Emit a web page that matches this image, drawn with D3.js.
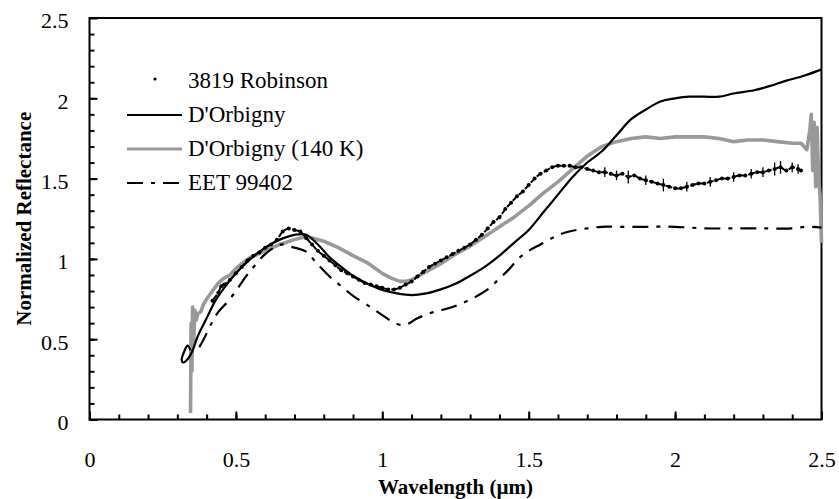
<!DOCTYPE html>
<html>
<head>
<meta charset="utf-8">
<script src="https://cdn.jsdelivr.net/npm/d3@7"></script>
</head>
<body style="margin:0">
<svg id="chart" width="839" height="499"></svg>
<script>
// wavelength (um), normalized reflectance
const robinson = [
  [0.42,0.74],[0.44,0.79],[0.45,0.83],[0.46,0.84],[0.48,0.87],[0.50,0.91],[0.52,0.95],[0.54,0.99],
  [0.56,1.02],[0.58,1.04],[0.60,1.07],[0.62,1.09],[0.64,1.12],[0.66,1.17],[0.68,1.19],[0.70,1.18],
  [0.72,1.17],[0.74,1.13],[0.76,1.09],[0.78,1.05],[0.80,1.02],[0.82,0.99],[0.84,0.96],[0.86,0.93],
  [0.88,0.91],[0.90,0.89],[0.92,0.87],[0.94,0.85],[0.96,0.84],[0.98,0.83],[1.00,0.82],[1.02,0.81],
  [1.04,0.81],[1.06,0.82],[1.08,0.84],[1.10,0.86],[1.12,0.89],[1.14,0.92],[1.16,0.95],[1.18,0.97],
  [1.20,0.99],[1.22,1.01],[1.24,1.03],[1.26,1.05],[1.28,1.07],[1.30,1.09],[1.32,1.12],[1.34,1.15],
  [1.36,1.19],[1.38,1.23],[1.40,1.26],[1.42,1.31],[1.44,1.35],[1.46,1.39],[1.48,1.42],[1.50,1.46],
  [1.52,1.50],[1.54,1.53],[1.56,1.55],[1.58,1.57],[1.60,1.58],[1.62,1.58],[1.64,1.58],[1.66,1.57],
  [1.68,1.57],[1.70,1.56],[1.72,1.55],[1.74,1.54],[1.76,1.54],[1.78,1.53],[1.80,1.52],[1.82,1.53],
  [1.84,1.51],[1.86,1.52],[1.88,1.50],[1.90,1.49],[1.92,1.48],[1.94,1.47],[1.96,1.46],[1.98,1.45],
  [2.00,1.44],[2.02,1.44],[2.04,1.45],[2.06,1.46],[2.08,1.47],[2.10,1.47],[2.12,1.48],[2.14,1.49],
  [2.16,1.50],[2.18,1.50],[2.20,1.51],[2.22,1.52],[2.24,1.52],[2.26,1.53],[2.28,1.54],[2.30,1.54],
  [2.32,1.55],[2.34,1.56],[2.36,1.57],[2.38,1.55],[2.40,1.57],[2.42,1.56],[2.43,1.55]
];

// visible error bars on the Robinson points: wavelength, half-height
const robinsonErr = [
  [1.76,0.03],[1.80,0.03],[1.84,0.04],[1.90,0.03],[1.96,0.04],[2.04,0.03],[2.12,0.03],
  [2.20,0.03],[2.26,0.03],[2.30,0.03],[2.34,0.04],[2.36,0.04],[2.40,0.03],[2.42,0.03]
];

const dorbigny = [
  [0.345,0.43],[0.335,0.46],[0.325,0.43],[0.315,0.37],[0.32,0.355],[0.335,0.375],[0.35,0.42],
  [0.37,0.52],[0.40,0.63],[0.43,0.74],[0.46,0.82],[0.50,0.91],[0.55,1.00],[0.60,1.07],[0.65,1.12],
  [0.70,1.15],[0.74,1.15],[0.78,1.09],[0.82,1.01],[0.86,0.95],[0.90,0.895],[0.95,0.845],[1.00,0.806],
  [1.05,0.785],[1.10,0.775],[1.15,0.785],[1.20,0.81],[1.25,0.845],[1.30,0.895],[1.35,0.95],[1.40,1.02],
  [1.45,1.10],[1.50,1.18],[1.55,1.29],[1.60,1.40],[1.65,1.51],[1.70,1.60],[1.75,1.67],[1.80,1.77],
  [1.85,1.87],[1.90,1.93],[1.95,1.98],[2.00,2.00],[2.05,2.01],[2.10,2.01],[2.15,2.01],[2.20,2.03],
  [2.27,2.05],[2.33,2.08],[2.38,2.11],[2.44,2.14],[2.50,2.18]
];

const dorbigny140 = [
  [0.345,0.04],[0.347,0.60],[0.350,0.30],[0.352,0.70],[0.355,0.45],[0.360,0.68],[0.365,0.62],
  [0.370,0.66],[0.380,0.67],[0.390,0.72],[0.40,0.75],[0.42,0.80],[0.44,0.85],[0.46,0.88],[0.48,0.90],
  [0.50,0.94],[0.52,0.97],[0.55,1.01],[0.60,1.05],[0.65,1.09],[0.70,1.12],[0.73,1.135],[0.76,1.13],
  [0.80,1.11],[0.85,1.07],[0.90,1.02],[0.95,0.975],[1.00,0.91],[1.03,0.88],[1.06,0.86],[1.08,0.86],
  [1.10,0.87],[1.15,0.92],[1.20,0.97],[1.25,1.03],[1.30,1.08],[1.35,1.14],[1.40,1.20],[1.45,1.26],
  [1.50,1.33],[1.55,1.41],[1.60,1.48],[1.65,1.56],[1.70,1.64],[1.75,1.70],[1.80,1.73],[1.85,1.75],
  [1.90,1.76],[1.95,1.75],[2.00,1.76],[2.05,1.76],[2.10,1.76],[2.15,1.75],[2.20,1.73],[2.25,1.74],
  [2.30,1.74],[2.35,1.73],[2.40,1.72],[2.43,1.72],[2.45,1.68],[2.46,1.80],[2.465,1.90],[2.47,1.55],
  [2.475,1.85],[2.48,1.45],[2.485,1.82],[2.49,1.50],[2.495,1.40],[2.50,1.10]
];

const eet99402 = [
  [0.375,0.45],[0.39,0.50],[0.42,0.61],[0.44,0.67],[0.47,0.73],[0.50,0.80],[0.53,0.88],[0.56,0.95],
  [0.60,1.03],[0.64,1.08],[0.66,1.09],[0.69,1.075],[0.74,1.045],[0.775,0.975],[0.82,0.89],[0.86,0.83],
  [0.90,0.77],[0.96,0.70],[1.00,0.65],[1.05,0.595],[1.08,0.59],[1.12,0.63],[1.16,0.66],[1.20,0.68],
  [1.24,0.70],[1.28,0.73],[1.32,0.765],[1.36,0.81],[1.39,0.86],[1.43,0.93],[1.47,1.01],[1.50,1.05],
  [1.54,1.09],[1.58,1.13],[1.61,1.155],[1.65,1.175],[1.70,1.19],[1.75,1.20],[1.80,1.20],[1.90,1.20],
  [2.00,1.20],[2.10,1.19],[2.20,1.19],[2.30,1.19],[2.40,1.19],[2.45,1.20],[2.50,1.195]
];

const majorTicks = [0, 0.5, 1, 1.5, 2, 2.5];
const minorTicks = d3.range(0, 25).map(i => i / 10);
const legendNames = ["3819 Robinson", "D'Orbigny", "D'Orbigny (140 K)", "EET 99402"];

const FONT = "font-family:'Liberation Serif';";

const margin = {top: 18, right: 17.5, bottom: 79.5, left: 89.5};
const width = 839 - margin.left - margin.right;
const height = 499 - margin.top - margin.bottom;

const svg = d3.select("#chart");
svg.append("rect").attr("width", "100%").attr("height", "100%").style("fill", "#fff");

const g = svg.append("g").attr("transform", "translate(" + margin.left + "," + margin.top + ")");

const x = d3.scaleLinear().domain([0, 2.5]).range([0, width]);
const y = d3.scaleLinear().domain([0, 2.5]).range([height, 0]);

// minor ticks, inside
g.append("g")
    .attr("transform", "translate(0," + height + ")")
    .call(d3.axisBottom(x).tickValues(minorTicks).tickSize(-5).tickSizeOuter(0).tickFormat(""))
    .call(a => a.select(".domain").remove())
    .selectAll("line").attr("stroke-width", 2);
g.append("g")
    .call(d3.axisLeft(y).tickValues(minorTicks).tickSize(-5).tickSizeOuter(0).tickFormat(""))
    .call(a => a.select(".domain").remove())
    .selectAll("line").attr("stroke-width", 2);

// major ticks and labels
const xAxis = g.append("g")
    .attr("transform", "translate(0," + height + ")")
    .call(d3.axisBottom(x).tickValues(majorTicks).tickSize(-8).tickSizeOuter(0).tickPadding(32).tickFormat(d3.format("")));
const yAxis = g.append("g")
    .call(d3.axisLeft(y).tickValues(majorTicks).tickSize(-8).tickSizeOuter(0).tickPadding(21).tickFormat(d3.format("")));

[xAxis, yAxis].forEach(a => {
    a.attr("font-family", null).attr("font-size", null);
    a.select(".domain").remove();
    a.selectAll("line").attr("stroke-width", 2);
    a.selectAll("text")
        .attr("fill", "#000")
        .attr("style", FONT + "font-size:22px");
});
yAxis.selectAll("text").attr("dy", "0.45em");

// plot frame
g.append("rect")
    .attr("width", width)
    .attr("height", height)
    .attr("fill", "none")
    .attr("stroke", "#000")
    .attr("stroke-width", 2);

const line = d3.line().x(d => x(d[0])).y(d => y(d[1]));

g.append("path")
    .datum(dorbigny140)
    .attr("d", line)
    .attr("fill", "none")
    .attr("stroke", "#999")
    .attr("stroke-width", 3.6)
    .attr("stroke-linejoin", "round");

line.curve(d3.curveCatmullRom);

g.append("path")
    .datum(eet99402)
    .attr("d", line)
    .attr("fill", "none")
    .attr("stroke", "#000")
    .attr("stroke-width", 2.2)
    .attr("stroke-dasharray", "16,8,4,8");

g.append("path")
    .datum(dorbigny)
    .attr("d", line)
    .attr("fill", "none")
    .attr("stroke", "#000")
    .attr("stroke-width", 2.2)
    .attr("stroke-linejoin", "round");

// Robinson: points joined by a thin trace, with the visible error bars
g.append("path")
    .datum(robinson)
    .attr("d", line)
    .attr("fill", "none")
    .attr("stroke", "#000")
    .attr("stroke-width", 2)
    .attr("stroke-dasharray", "7,1.5");

const robLookup = new Map(robinson.map(d => [d[0], d[1]]));
g.selectAll("line.err")
    .data(robinsonErr)
    .enter()
    .append("line")
    .attr("class", "err")
    .attr("x1", d => x(d[0]))
    .attr("x2", d => x(d[0]))
    .attr("y1", d => y(robLookup.get(d[0]) - d[1]))
    .attr("y2", d => y(robLookup.get(d[0]) + d[1]))
    .attr("stroke", "#000")
    .attr("stroke-width", 1.3);

g.selectAll("circle.rob")
    .data(robinson)
    .enter()
    .append("circle")
    .attr("class", "rob")
    .attr("cx", d => x(d[0]))
    .attr("cy", d => y(d[1]))
    .attr("r", 2)
    .attr("fill", "#000");

// legend
const legend = svg.append("g");
const rowY = [81, 115, 149, 183];
legendNames.forEach((name, i) => {
    if (i === 0) {
        legend.append("circle").attr("cx", 155).attr("cy", rowY[i] - 2).attr("r", 1.6).attr("fill", "#000");
    } else {
        legend.append("line")
            .attr("x1", 127).attr("x2", 182)
            .attr("y1", rowY[i]).attr("y2", rowY[i])
            .attr("stroke", i === 2 ? "#999" : "#000")
            .attr("stroke-width", i === 2 ? 3 : 2.2)
            .attr("stroke-dasharray", i === 3 ? "16,8,4,8" : null);
    }
    legend.append("text")
        .attr("x", 188)
        .attr("y", rowY[i] + 7)
        .attr("style", FONT + "font-size:23px")
        .text(name);
});

// axis titles
svg.append("text")
    .attr("x", margin.left + width / 2)
    .attr("y", 494)
    .attr("text-anchor", "middle")
    .attr("style", FONT + "font-size:21px;font-weight:bold")
    .text("Wavelength (µm)");

svg.append("text")
    .attr("transform", "translate(31," + (margin.top + height / 2) + ") rotate(-90)")
    .attr("text-anchor", "middle")
    .attr("style", FONT + "font-size:21px;font-weight:bold")
    .text("Normalized Reflectance");
</script>
</body>
</html>
